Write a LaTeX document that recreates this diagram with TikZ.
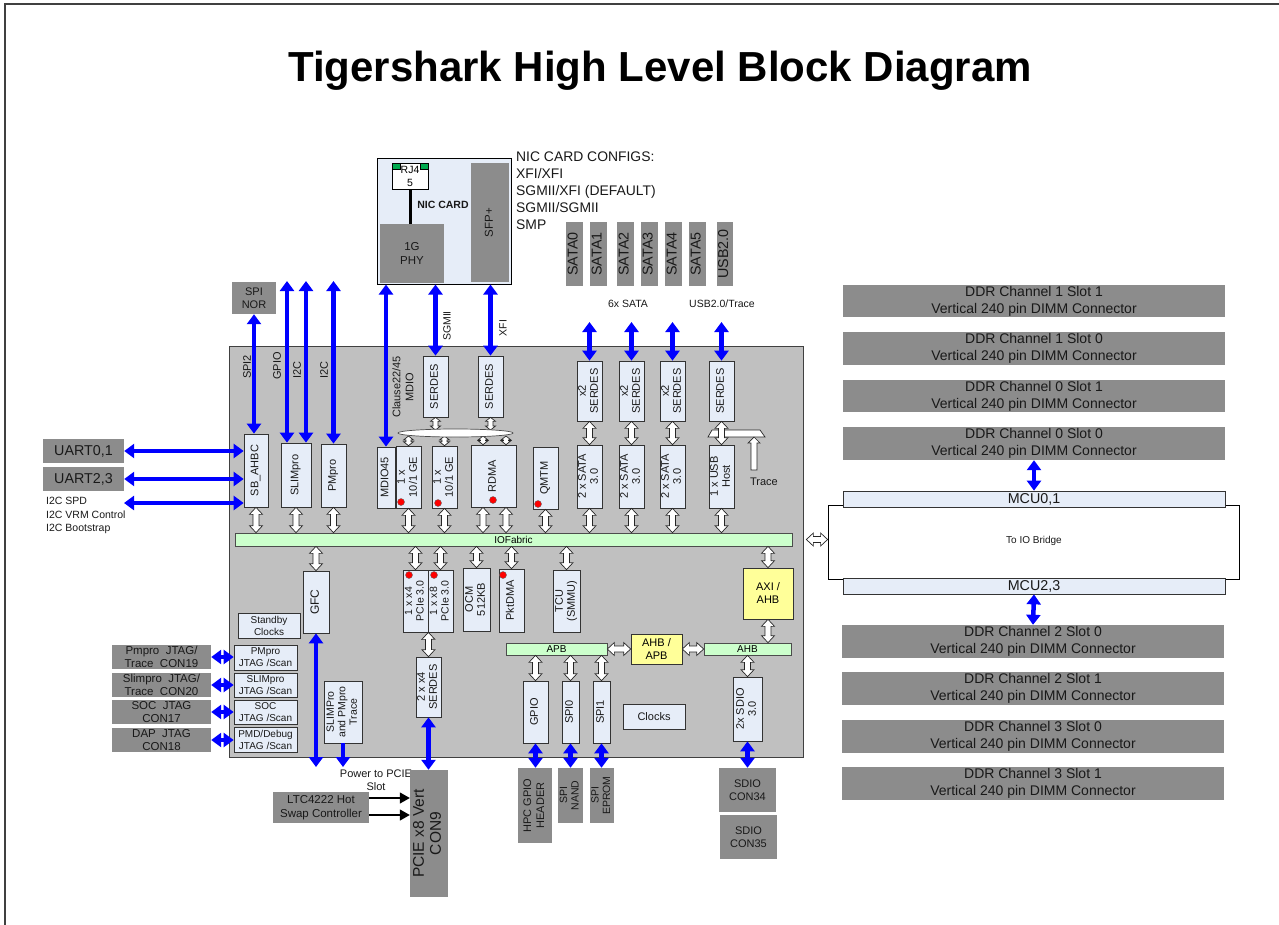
\documentclass[tikz,border=0pt]{standalone}
\usepackage{fontspec}
\setmainfont{Liberation Sans}
\usetikzlibrary{arrows.meta,calc,shapes.geometric}
\definecolor{cgray}{RGB}{140,140,140}
\definecolor{chipg}{RGB}{192,192,192}
\definecolor{lblue}{RGB}{230,237,248}
\definecolor{lgreen}{RGB}{204,255,204}
\definecolor{lyel}{RGB}{255,255,153}
\definecolor{rjgreen}{RGB}{0,170,80}
\newcommand\fs[2]{\fontsize{#1}{#2}\selectfont}
\newcommand\rt[1]{\rotatebox{90}{\begin{tabular}{@{}c@{}}#1\end{tabular}}}
\newcommand\bx[7]{\node[#1,minimum width={(#5-#3)*1pt},minimum height={(#6-#4)*1pt}] (#2) at ({(#3+#5)/2},{(#4+#6)/2}) {#7};}
\newcommand\harrg[5]{%
 \draw[hollow] (#4)
 -- ($(#4)!#1!(#5)!#2!90:(#5)$)
 -- ($(#4)!#1!(#5)!#3!90:(#5)$)
 -- ($(#5)!#1!(#4)!#3!270:(#4)$)
 -- ($(#5)!#1!(#4)!#2!270:(#4)$)
 -- (#5)
 -- ($(#5)!#1!(#4)!#2!90:(#4)$)
 -- ($(#5)!#1!(#4)!#3!90:(#4)$)
 -- ($(#4)!#1!(#5)!#3!270:(#5)$)
 -- ($(#4)!#1!(#5)!#2!270:(#5)$)
 -- cycle;}
\newcommand\harrone[5]{%
 \draw[hollow] ($(#4)!#3!90:(#5)$)
 -- ($(#5)!#1!(#4)!#3!270:(#4)$)
 -- ($(#5)!#1!(#4)!#2!270:(#4)$)
 -- (#5)
 -- ($(#5)!#1!(#4)!#2!90:(#4)$)
 -- ($(#5)!#1!(#4)!#3!90:(#4)$)
 -- ($(#4)!#3!270:(#5)$)
 -- cycle;}
\newcommand\harr[2]{\harrg{7pt}{6.5pt}{3pt}{#1}{#2}}
\newcommand\harrs[2]{\harrg{4pt}{5pt}{2.5pt}{#1}{#2}}
\begin{document}
\begin{tikzpicture}[x=1pt,y=-1pt,
 lbox/.style={draw=black!80,line width=0.7pt,fill=lblue,inner sep=0pt,align=center,text=black!90,font=\fs{11}{12}},
 gbox/.style={fill=cgray,inner sep=0pt,align=center,text=black!90,font=\fs{11}{13}},
 grn/.style={draw=black!70,line width=0.7pt,fill=lgreen,inner sep=0pt,align=center,font=\fs{10}{11}},
 yel/.style={draw=black!80,line width=0.7pt,fill=lyel,inner sep=0pt,align=center,font=\fs{11}{13}},
 barrow/.style={draw=blue,line width=4.5pt,{Triangle[length=10pt,width=14pt]}-{Triangle[length=10pt,width=14pt]}},
 bsingle/.style={draw=blue,line width=4.5pt,-{Triangle[length=10pt,width=14pt]}},
 blk/.style={draw=black,line width=1.2pt,-{Triangle[length=10pt,width=11pt]}},
 hollow/.style={draw=black!85,fill=white,line width=0.7pt},
 lbl/.style={inner sep=0pt,align=center,text=black!90},
 reddot/.style={circle,fill=red,draw=black!60,line width=0.4pt,minimum size=7pt,inner sep=0pt}]
\useasboundingbox (0,0) rectangle (1279,924);
\begin{scope}
\clip (0,0) rectangle (1279,924);
\draw[line width=1.5pt,black!75] (5,4) rectangle (1300,950);
\end{scope}
\node[lbl,font=\bfseries\fs{42}{48},text=black] (title) at (660,71) {Tigershark High Level Block Diagram};

% chip and NIC card
\bx{draw=black!75,line width=1pt,fill=chipg}{chip}{229}{346}{803}{757}{}
\bx{draw=black,line width=1pt,fill=lblue}{nic}{377}{158}{511}{284}{}
\bx{draw=black,line width=0.8pt,fill=white,inner sep=0pt,align=center,font=\fs{10.5}{13}}{rj}{392}{163}{428}{189}{RJ4\\5}
\fill[rjgreen,draw=black,line width=0.4pt] (392,163) rectangle (400,169);
\fill[rjgreen,draw=black,line width=0.4pt] (420,163) rectangle (428,169);
\bx{gbox,font=\fs{11.5}{14}}{phy}{380}{224}{444}{283}{1G\\PHY}
\bx{gbox,font=\fs{11.5}{14}}{sfp}{471}{163}{509}{282}{\rt{SFP+}}
\draw[line width=3pt] (rj.south) -- (rj.south |- phy.north);
\node[lbl,font=\bfseries\fs{10.5}{12}] (niccard) at (443,205) {NIC CARD};
\node[lbl,anchor=north west,align=left,font=\fs{13.9}{17}] (cfg) at (516,152) {NIC CARD CONFIGS:\\XFI/XFI\\SGMII/XFI (DEFAULT)\\SGMII/SGMII\\SMP};

% SATA / USB connectors
\bx{gbox,font=\fs{14.3}{16}}{sata0}{566}{222}{583}{286}{\rt{SATA0}}
\bx{gbox,font=\fs{14.3}{16}}{sata1}{590}{222}{607}{286}{\rt{SATA1}}
\bx{gbox,font=\fs{14.3}{16}}{sata2}{617}{222}{634}{286}{\rt{SATA2}}
\bx{gbox,font=\fs{14.3}{16}}{sata3}{641}{222}{658}{286}{\rt{SATA3}}
\bx{gbox,font=\fs{14.3}{16}}{sata4}{665}{222}{682}{286}{\rt{SATA4}}
\bx{gbox,font=\fs{14.3}{16}}{sata5}{689}{222}{706}{286}{\rt{SATA5}}
\bx{gbox,font=\fs{14.3}{16}}{usb20}{717}{222}{733}{286}{\rt{USB2.0}}
\node[lbl,font=\fs{10.5}{12}] (l6x) at (628,304) {6x SATA};
\node[lbl,font=\fs{10.5}{12}] (lusb) at (722,304) {USB2.0/Trace};

% left connectors
\bx{gbox}{spinor}{232}{282}{276}{314}{SPI\\NOR}
\bx{gbox,font=\fs{14.3}{16}}{uart01}{43}{439}{124}{463}{UART0,1}
\bx{gbox,font=\fs{14.3}{16}}{uart23}{43}{467}{124}{491}{UART2,3}
\node[lbl,anchor=north west,align=left,font=\fs{10.5}{13.5}] (i2ctxt) at (46,497) {I2C SPD\\I2C VRM Control\\I2C Bootstrap};

% top-left chip blocks
\bx{lbox}{sbahbc}{244}{434}{268}{507}{\rt{SB\_AHBC}}
\bx{lbox}{slimpro}{281}{443}{311}{507}{\rt{SLIMpro}}
\bx{lbox}{pmpro}{321}{444}{346}{507}{\rt{PMpro}}
\node[lbl,rotate=90,font=\fs{11}{13}] (lspi2) at (247,367) {SPI2};
\node[lbl,rotate=90,font=\fs{11}{13}] (lgpio) at (277,366) {GPIO};
\node[lbl,rotate=90,font=\fs{11}{13}] (li2ca) at (297,370) {I2C};
\node[lbl,rotate=90,font=\fs{11}{13}] (li2cb) at (324,370) {I2C};

% IOFabric
\bx{grn}{iof}{235}{533}{792}{546}{IOFabric}

% network blocks
\bx{lbox}{mdio}{377}{447}{395}{508}{\rt{MDIO45}}
\bx{lbox}{gea}{396}{446}{421}{508}{\rt{1 x\\10/1 GE}}
\bx{lbox}{geb}{432}{446}{457}{508}{\rt{1 x\\10/1 GE}}
\bx{lbox}{rdma}{471}{445}{516}{507}{\rt{RDMA}}
\bx{lbox}{qmtm}{533}{447}{558}{509}{\rt{QMTM}}
\bx{lbox}{ser1}{423}{356}{448}{417}{\rt{SERDES}}
\bx{lbox}{ser2}{478}{356}{503}{417}{\rt{SERDES}}
\node[lbl,rotate=90,font=\fs{11}{13}] (lclause) at (403,387) {Clause22/45\\MDIO};
\node[lbl,rotate=90,font=\fs{10.5}{12}] (lsgmii) at (447,326) {SGMII};
\node[lbl,rotate=90,font=\fs{10.5}{12}] (lxfi) at (503,328) {XFI};

\coordinate (ellt) at (0,430);
\coordinate (ellb) at (0,436);
\coordinate (r1) at ($(rdma.north)+(-10.5,0)$);
\coordinate (r2) at ($(rdma.north)+(12.5,0)$);
\harrs{ser1.south}{ser1.south |- ellt}
\harrs{ser2.south}{ser2.south |- ellt}
\harrs{gea.north |- ellb}{gea.north}
\harrs{geb.north |- ellb}{geb.north}
\harrs{r1 |- ellb}{r1}
\harrs{r2 |- ellb}{r2}
\node[ellipse,draw=black!70,fill=white,line width=0.7pt,minimum width=115pt,minimum height=8pt,inner sep=0pt] (ell) at (455.5,433) {};

% SATA / USB chip blocks
\bx{lbox}{ss1}{577}{361}{602}{421}{\rt{x2\\SERDES}}
\bx{lbox}{ss2}{619}{361}{644}{421}{\rt{x2\\SERDES}}
\bx{lbox}{ss3}{660}{361}{685}{421}{\rt{x2\\SERDES}}
\bx{lbox}{usbs}{709}{361}{734}{421}{\rt{SERDES}}
\bx{lbox}{sa1}{577}{445}{602}{508}{\rt{2 x SATA\\3.0}}
\bx{lbox}{sa2}{619}{445}{644}{508}{\rt{2 x SATA\\3.0}}
\bx{lbox}{sa3}{660}{445}{685}{508}{\rt{2 x SATA\\3.0}}
\bx{lbox}{usbh}{709}{445}{734}{508}{\rt{1 x USB\\Host}}
\harr{ss1.south}{sa1.north}
\harr{ss2.south}{sa2.north}
\harr{ss3.south}{sa3.north}
\draw[hollow] (708,437) -- (712,430) -- (760,430) -- (765,437) -- cycle;
\harr{usbs.south}{usbh.north}
\coordinate (trA) at (754,470);
\coordinate (trB) at (754,437);
\harrone{6pt}{6pt}{3pt}{trA}{trB}
\node[lbl,font=\fs{11}{13}] (ltrace) at (764,482) {Trace};

% lower-left blocks
\bx{lbox,font=\fs{12}{14}}{gfc}{303}{571}{329}{633}{\rt{GFC}}
\bx{lbox,font=\fs{10}{12}}{stby}{238}{613}{300}{638}{Standby\\Clocks}
\bx{lbox,font=\fs{10}{12}}{jt1}{234}{645}{297}{670}{PMpro\\JTAG /Scan}
\bx{lbox,font=\fs{10}{12}}{jt2}{234}{673}{297}{697}{SLIMpro\\JTAG /Scan}
\bx{lbox,font=\fs{10}{12}}{jt3}{234}{700}{297}{724}{SOC\\JTAG /Scan}
\bx{lbox,font=\fs{10}{12}}{jt4}{234}{727}{297}{752}{PMD/Debug\\JTAG /Scan}
\bx{gbox,font=\fs{11.5}{12.5}}{jg1}{112}{645}{211}{669}{Pmpro\ \ JTAG/\\Trace\ \ CON19}
\bx{gbox,font=\fs{11.5}{12.5}}{jg2}{112}{673}{211}{697}{Slimpro\ \ JTAG/\\Trace\ \ CON20}
\bx{gbox,font=\fs{11.5}{12.5}}{jg3}{112}{700}{211}{724}{SOC\ \ JTAG\\CON17}
\bx{gbox,font=\fs{11.5}{12.5}}{jg4}{112}{728}{211}{752}{DAP\ \ JTAG\\CON18}
\bx{lbox,font=\fs{10.5}{11.5}}{trc}{324}{681}{362}{743}{\rt{SLIMPro\\and PMpro\\Trace}}
\node[lbl,font=\fs{11}{13}] (lpower) at (376,780) {Power to PCIE\\Slot};
\bx{gbox,font=\fs{11.5}{13.5}}{ltc}{273}{792}{369}{823}{LTC4222 Hot\\Swap Controller}
\bx{gbox,font=\fs{15.5}{17}}{pcie}{410}{770}{448}{897}{\rt{PCIE x8 Vert\\CON9}}

% lower-middle blocks
\bx{lbox,font=\fs{10.5}{11.5}}{px4}{403}{570}{428}{632}{\rt{1 x x4\\PCIe 3.0}}
\bx{lbox,font=\fs{10.5}{11.5}}{px8}{428}{570}{453}{632}{\rt{1 x x8\\PCIe 3.0}}
\bx{lbox}{ocm}{463}{568}{490}{631}{\rt{OCM\\512KB}}
\bx{lbox}{pktdma}{499}{569}{524}{632}{\rt{PktDMA}}
\bx{lbox}{tcu}{553}{570}{580}{632}{\rt{TCU\\(SMMU)}}
\bx{lbox}{ser24}{416}{657}{441}{717}{\rt{2 x x4\\SERDES}}
\bx{grn}{apb}{506}{643}{607}{655}{APB}
\bx{yel}{ahbapb}{631}{634}{682}{664}{AHB /\\APB}
\bx{grn}{ahb}{704}{643}{791}{655}{AHB}
\bx{yel}{axi}{743}{568}{793}{619}{AXI /\\AHB}
\bx{lbox}{gpio}{523}{681}{548}{743}{\rt{GPIO}}
\bx{lbox}{spi0}{562}{681}{579}{743}{\rt{SPI0}}
\bx{lbox}{spi1}{593}{681}{610}{743}{\rt{SPI1}}
\bx{lbox}{clocks}{623}{704}{685}{729}{Clocks}
\bx{lbox}{sdio}{733}{677}{762}{741}{\rt{2x SDIO\\3.0}}
\bx{gbox}{hpc}{518}{768}{552}{843}{\rt{HPC GPIO\\HEADER}}
\bx{gbox,font=\fs{10.5}{11.5}}{spinand}{558}{768}{583}{823}{\rt{SPI\\NAND}}
\bx{gbox,font=\fs{10.5}{11.5}}{spiep}{590}{768}{614}{823}{\rt{SPI\\EPROM}}
\bx{gbox}{sd34}{719}{768}{776}{812}{SDIO\\CON34}
\bx{gbox}{sd35}{720}{815}{777}{859}{SDIO\\CON35}

% red dots
\node[reddot] (d1) at (401,502) {};
\node[reddot] (d2) at (438,503) {};
\node[reddot] (d3) at (493,500) {};
\node[reddot] (d4) at (538,504) {};
\node[reddot] (d5) at (409,575) {};
\node[reddot] (d6) at (434,575) {};
\node[reddot] (d7) at (503,575) {};

% DDR side
\bx{draw=black,line width=0.8pt,fill=white}{iob}{828}{505}{1239}{579}{}
\node[lbl,font=\fs{10}{12}] (liob) at (1034,541) {To IO Bridge};
\bx{gbox,font=\fs{14}{17}}{ddr11}{843}{285}{1225}{317}{DDR Channel 1 Slot 1\\Vertical 240 pin DIMM Connector}
\bx{gbox,font=\fs{14}{17}}{ddr10}{843}{332}{1225}{365}{DDR Channel 1 Slot 0\\Vertical 240 pin DIMM Connector}
\bx{gbox,font=\fs{14}{17}}{ddr01}{843}{380}{1225}{412}{DDR Channel 0 Slot 1\\Vertical 240 pin DIMM Connector}
\bx{gbox,font=\fs{14}{17}}{ddr00}{843}{427}{1225}{460}{DDR Channel 0 Slot 0\\Vertical 240 pin DIMM Connector}
\bx{lbox,font=\fs{14.3}{16}}{mcu01}{843}{491}{1225}{507}{MCU0,1}
\bx{lbox,font=\fs{14.3}{16}}{mcu23}{843}{578}{1225}{594}{MCU2,3}
\bx{gbox,font=\fs{14}{17}}{ddr20}{842}{625}{1224}{658}{DDR Channel 2 Slot 0\\Vertical 240 pin DIMM Connector}
\bx{gbox,font=\fs{14}{17}}{ddr21}{842}{672}{1224}{705}{DDR Channel 2 Slot 1\\Vertical 240 pin DIMM Connector}
\bx{gbox,font=\fs{14}{17}}{ddr30}{842}{720}{1224}{753}{DDR Channel 3 Slot 0\\Vertical 240 pin DIMM Connector}
\bx{gbox,font=\fs{14}{17}}{ddr31}{842}{767}{1224}{800}{DDR Channel 3 Slot 1\\Vertical 240 pin DIMM Connector}

% hollow arrows to / from IOFabric
\harr{sbahbc.south}{sbahbc.south |- iof.north}
\harr{slimpro.south}{slimpro.south |- iof.north}
\harr{pmpro.south}{pmpro.south |- iof.north}
\harr{gea.south}{gea.south |- iof.north}
\harr{geb.south}{geb.south |- iof.north}
\coordinate (r3) at ($(rdma.south)+(-10.5,0)$);
\coordinate (r4) at ($(rdma.south)+(12.5,0)$);
\harr{r3}{r3 |- iof.north}
\harr{r4}{r4 |- iof.north}
\harr{qmtm.south}{qmtm.south |- iof.north}
\harr{sa1.south}{sa1.south |- iof.north}
\harr{sa2.south}{sa2.south |- iof.north}
\harr{sa3.south}{sa3.south |- iof.north}
\harr{usbh.south}{usbh.south |- iof.north}
\harr{gfc.north |- iof.south}{gfc.north}
\harr{px4.north |- iof.south}{px4.north}
\harr{px8.north |- iof.south}{px8.north}
\harr{ocm.north |- iof.south}{ocm.north}
\harr{pktdma.north |- iof.south}{pktdma.north}
\harr{tcu.north |- iof.south}{tcu.north}
\harr{axi.north |- iof.south}{axi.north}
\harr{axi.south}{axi.south |- ahb.north}
\harr{px4.south east}{ser24.north}
\harr{apb.east}{ahbapb.west}
\harr{ahbapb.east}{ahb.west}
\harr{gpio.north |- apb.south}{gpio.north}
\harr{spi0.north |- apb.south}{spi0.north}
\harr{spi1.north |- apb.south}{spi1.north}
\harr{sdio.north |- ahb.south}{sdio.north}
\coordinate (ioa) at ($(iof.east)+(14,0)$);
\harr{ioa}{ioa -| iob.west}

% blue arrows
\draw[barrow] (uart01.east) -- (uart01.east -| sbahbc.west);
\draw[barrow] (uart23.east) -- (uart23.east -| sbahbc.west);
\coordinate (i2cl) at (124,503);
\draw[barrow] (i2cl) -- (i2cl -| sbahbc.west);
\draw[barrow] (spinor.south) -- (spinor.south |- sbahbc.north);
\coordinate (gpt) at (287,281);
\coordinate (i2ta) at (306,281);
\coordinate (i2tb) at (333.5,281);
\draw[barrow] (gpt) -- (gpt |- slimpro.north);
\draw[barrow] (i2ta) -- (i2ta |- slimpro.north);
\draw[barrow] (i2tb) -- (i2tb |- pmpro.north);
\draw[barrow] (mdio.north |- nic.south) -- (mdio.north);
\draw[barrow] (ser1.north |- nic.south) -- (ser1.north);
\draw[barrow] (ser2.north |- nic.south) -- (ser2.north);
\coordinate (sb1) at (589.5,322);
\coordinate (sb2) at (631.5,322);
\coordinate (sb3) at (672.5,322);
\coordinate (sb4) at (721.5,322);
\draw[barrow] (sb1) -- (sb1 |- ss1.north);
\draw[barrow] (sb2) -- (sb2 |- ss2.north);
\draw[barrow] (sb3) -- (sb3 |- ss3.north);
\draw[barrow] (sb4) -- (sb4 |- usbs.north);
\draw[barrow] (ddr00.south) -- (mcu01.north);
\draw[barrow] (mcu23.south) -- (ddr20.north);
\draw[barrow] (jg1.east) -- (jg1.east -| jt1.west);
\draw[barrow] (jg2.east) -- (jg2.east -| jt2.west);
\draw[barrow] (jg3.east) -- (jg3.east -| jt3.west);
\draw[barrow] (jg4.east) -- (jg4.east -| jt4.west);
\coordinate (gfcb) at (316,767);
\draw[barrow] (gfc.south) -- (gfcb);
\draw[bsingle] (trc.south) -- (trc.south |- gfcb);
\draw[barrow] (ser24.south) -- (ser24.south |- pcie.north);
\draw[barrow] (gpio.south) -- (gpio.south |- hpc.north);
\draw[barrow] (spi0.south) -- (spi0.south |- spinand.north);
\draw[barrow] (spi1.south) -- (spi1.south |- spiep.north);
\draw[barrow] (sdio.south) -- (sdio.south |- sd34.north);

% black arrows from hot-swap controller
\coordinate (la) at ($(ltc.east)+(0,-9.5)$);
\coordinate (lb) at ($(ltc.east)+(0,7.5)$);
\draw[blk] (la) -- (la -| pcie.west);
\draw[blk] (lb) -- (lb -| pcie.west);
\end{tikzpicture}
\end{document}
